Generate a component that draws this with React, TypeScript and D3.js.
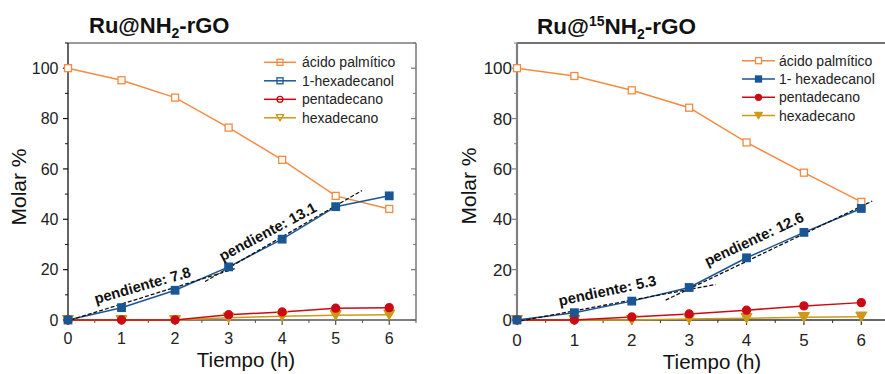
import React from "react";
import * as d3 from "d3";

const hours = [0, 1, 2, 3, 4, 5, 6];
const xTicks = [0, 1, 2, 3, 4, 5, 6];
const yTicks = [0, 20, 40, 60, 80, 100];
const seriesNamesA = ["ácido palmítico", "1-hexadecanol", "pentadecano", "hexadecano"];
const seriesNamesB = ["ácido palmítico", "1- hexadecanol", "pentadecano", "hexadecano"];

const palmiticoA = [100, 95.2, 88.3, 76.4, 63.6, 49.3, 44.1];
const hexadecanolA = [0, 4.9, 11.8, 21.1, 32.1, 45.0, 49.3];
const pentadecanoA = [0, 0, 0, 2.1, 3.2, 4.7, 4.9];
const hexadecanoA = [0, 0, 0, 0.9, 1.5, 1.9, 2.1];

const palmiticoB = [100, 96.9, 91.2, 84.3, 70.5, 58.5, 46.9];
const hexadecanolB = [0, 2.9, 7.5, 12.9, 24.7, 34.8, 44.3];
const pentadecanoB = [0, 0, 1.2, 2.4, 3.9, 5.6, 6.9];
const hexadecanoB = [0, 0, 0, 0.4, 0.7, 1.1, 1.3];

const slopeLinesA = [
  [[-0.06, -0.7], [3.15, 20.6]],
  [[2.56, 15.3], [5.49, 51.4]],
];
const slopeLinesB = [
  [[-0.04, -0.8], [3.46, 14.1]],
  [[2.59, 7.9], [6.19, 47.2]],
];
const slopeLabelsA = [
  { text: "pendiente: 7.8", t: 1.39, v: 13.8, angle: -16 },
  { text: "pendiente: 13.1", t: 3.73, v: 35.1, angle: -28 },
];
const slopeLabelsB = [
  { text: "pendiente: 5.3", t: 1.575, v: 11.7, angle: -12 },
  { text: "pendiente: 12.6", t: 4.13, v: 32.2, angle: -25 },
];

const COLORS = ["#F58A42", "#1B5694", "#CC0A14", "#CC9A18"];
const FONT = "Arial, 'Liberation Sans', sans-serif";

type Marker = "square" | "circle" | "tri";
const MARKERS: Marker[] = ["square", "square", "circle", "tri"];
const PLOT_SIZES = [7, 7.5, 8, 8.5];

function MarkerShape({ kind, x, y, size, color, fill }: any) {
  if (kind === "square") {
    return <rect x={x - size / 2} y={y - size / 2} width={size} height={size} fill={fill} stroke={color} strokeWidth={1.3} />;
  }
  if (kind === "circle") {
    return <circle cx={x} cy={y} r={size / 2} fill={fill} stroke={color} strokeWidth={1.3} />;
  }
  const w = size * 1.25;
  const h = size * 1.05;
  const p = d3.path();
  p.moveTo(x - w / 2, y - h / 2);
  p.lineTo(x + w / 2, y - h / 2);
  p.lineTo(x, y + h / 2);
  p.closePath();
  return <path d={p.toString()} fill={fill} stroke={color} strokeWidth={1.3} strokeLinejoin="round" />;
}

function Panel(props: any) {
  const { left, right, top, bottom, series, plotFills, legendFills, names, legend, slopes, labels, cfg } = props;
  const x = d3.scaleLinear().domain([0, 6.5]).range([left, right]);
  const y = d3.scaleLinear().domain([0, 110]).range([bottom, top]);
  const line = d3
    .line<number>()
    .x((_, i) => x(hours[i]))
    .y((d) => y(d));
  const minorX = d3.range(0.5, 6.6, 1);
  const minorY = d3.range(10, 111, 20);
  const order = [0, 3, 2, 1];
  return (
    <g fontFamily={FONT}>
      <line x1={left} x2={right} y1={top} y2={top} stroke={cfg.topColor} strokeWidth={1.5} />
      <line x1={right} x2={right} y1={top} y2={bottom} stroke="#777" strokeWidth={1.5} />
      <line x1={left} x2={right} y1={bottom} y2={bottom} stroke={cfg.bottomColor} strokeWidth={1.5} />
      <line x1={left} x2={left} y1={top} y2={bottom + 0.5} stroke={cfg.leftColor} strokeWidth={cfg.leftWidth} />
      {yTicks.map((t) => (
        <g key={"yt" + t}>
          <line x1={left - 5} x2={left} y1={y(t)} y2={y(t)} stroke={cfg.leftColor} strokeWidth={1.2} />
          <line x1={right - 5} x2={right} y1={y(t)} y2={y(t)} stroke="#777" strokeWidth={1.2} />
          <text x={cfg.yLabelRight} y={y(t)} dy="0.36em" textAnchor="end" fontSize={cfg.tickFont} fill="#222">
            {t}
          </text>
        </g>
      ))}
      {minorY.map((t) => (
        <g key={"ym" + t}>
          <line x1={left - 3} x2={left} y1={y(t)} y2={y(t)} stroke={cfg.leftColor} strokeWidth={1} />
          <line x1={right - 3} x2={right} y1={y(t)} y2={y(t)} stroke="#777" strokeWidth={1} />
        </g>
      ))}
      {xTicks.map((t) => (
        <g key={"xt" + t}>
          <line x1={x(t)} x2={x(t)} y1={bottom} y2={bottom + 5} stroke={cfg.bottomColor} strokeWidth={1.2} />
          <text x={x(t)} y={cfg.xLabelBase} textAnchor="middle" fontSize={cfg.tickFont} fill="#222">
            {t}
          </text>
        </g>
      ))}
      {minorX.map((t) => (
        <line key={"xm" + t} x1={x(t)} x2={x(t)} y1={bottom} y2={bottom + 3} stroke={cfg.bottomColor} strokeWidth={1} />
      ))}
      <text
        transform={`translate(${cfg.yTitleX},${cfg.yTitleY}) rotate(-90)`}
        textAnchor="middle"
        dy="0.35em"
        fontSize={21}
        fill="#111"
      >
        Molar %
      </text>
      <text x={cfg.xTitleX} y={cfg.xTitleBase} textAnchor="middle" fontSize={20.5} fill="#111">
        Tiempo (h)
      </text>
      {order.map((si) => (
        <path key={"l" + si} d={line(series[si]) || ""} fill="none" stroke={COLORS[si]} strokeWidth={1.5} />
      ))}
      {slopes.map((s: number[][], i: number) => (
        <line
          key={"s" + i}
          x1={x(s[0][0])}
          y1={y(s[0][1])}
          x2={x(s[1][0])}
          y2={y(s[1][1])}
          stroke="#111"
          strokeWidth={1.3}
          strokeDasharray="4,2"
        />
      ))}
      {order.map((si) =>
        series[si].map((v: number, i: number) => (
          <MarkerShape
            key={"m" + si + "-" + i}
            kind={MARKERS[si]}
            x={x(hours[i])}
            y={y(v)}
            size={PLOT_SIZES[si]}
            color={COLORS[si]}
            fill={plotFills[si] ? COLORS[si] : "#fff"}
          />
        ))
      )}
      {labels.map((l: any, i: number) => (
        <text
          key={"sl" + i}
          transform={`translate(${x(l.t)},${y(l.v)}) rotate(${l.angle})`}
          textAnchor="middle"
          dy="0.35em"
          fontSize={14.8}
          fontWeight="bold"
          fill="#111"
        >
          {l.text}
        </text>
      ))}
      {names.map((n: string, i: number) => {
        const ly = legend.y0 + i * legend.dy;
        return (
          <g key={"lg" + i}>
            <line x1={legend.x1} x2={legend.x2} y1={ly} y2={ly} stroke={COLORS[i]} strokeWidth={1.5} />
            <MarkerShape
              kind={MARKERS[i]}
              x={(legend.x1 + legend.x2) / 2}
              y={ly}
              size={6}
              color={COLORS[i]}
              fill={legendFills[i] === "none" ? "none" : legendFills[i] ? COLORS[i] : "#fff"}
            />
            <text x={legend.tx} y={ly} dy="0.35em" fontSize={14} fill="#222">
              {n}
            </text>
          </g>
        );
      })}
    </g>
  );
}

export default function App() {
  return (
    <svg
      width={885}
      height={374}
      style={{ position: "absolute", left: 0, top: 0, background: "#fff" }}
      fontFamily={FONT}
    >
      <rect width={885} height={374} fill="#fff" />
      <text x={89} y={33} fontSize={22} fontWeight="bold" fill="#111">
        Ru@NH<tspan fontSize={14} dy={5}>2</tspan>
        <tspan dy={-5}>-rGO</tspan>
      </text>
      <text x={537} y={34} fontSize={22.5} fontWeight="bold" fill="#111">
        Ru@<tspan fontSize={14} dy={-8}>15</tspan>
        <tspan dy={8}>NH</tspan>
        <tspan fontSize={14} dy={5}>2</tspan>
        <tspan dy={-5}>-rGO</tspan>
      </text>
      <Panel
        left={68}
        right={416}
        top={43}
        bottom={320}
        series={[palmiticoA, hexadecanolA, pentadecanoA, hexadecanoA]}
        plotFills={[false, true, true, true]}
        legendFills={["none", "none", "none", "none"]}
        names={seriesNamesA}
        legend={{ x1: 264, x2: 296, tx: 302, y0: 62.3, dy: 18.5 }}
        slopes={slopeLinesA}
        labels={slopeLabelsA}
        cfg={{
          topColor: "#7a7a7a",
          bottomColor: "#555",
          leftColor: "#111",
          leftWidth: 1.3,
          tickFont: 16,
          yLabelRight: 58.5,
          xLabelBase: 344,
          yTitleX: 18.5,
          yTitleY: 187,
          xTitleX: 246,
          xTitleBase: 367,
        }}
      />
      <Panel
        left={517}
        right={890}
        top={43}
        bottom={320}
        series={[palmiticoB, hexadecanolB, pentadecanoB, hexadecanoB]}
        plotFills={[false, true, true, true]}
        legendFills={[false, true, true, true]}
        names={seriesNamesB}
        legend={{ x1: 742, x2: 775, tx: 779, y0: 60.7, dy: 18.3 }}
        slopes={slopeLinesB}
        labels={slopeLabelsB}
        cfg={{
          topColor: "#444",
          bottomColor: "#333",
          leftColor: "#808080",
          leftWidth: 2.2,
          tickFont: 17,
          yLabelRight: 512,
          xLabelBase: 346,
          yTitleX: 469,
          yTitleY: 186,
          xTitleX: 712,
          xTitleBase: 369,
        }}
      />
    </svg>
  );
}
